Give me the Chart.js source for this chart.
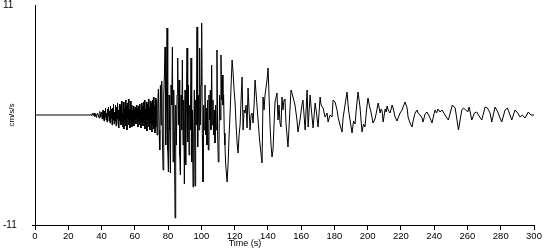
<!DOCTYPE html>
<html>
<head>
<meta charset="utf-8">
<script src="https://cdn.jsdelivr.net/npm/chart.js@4"></script>
<style>
    body { margin: 0; background: #fff; }
    canvas { display: block; }
</style>
</head>
<body>
<canvas id="accelChart" width="550" height="250"></canvas>
<script>
// Values, split by phase. Time in s, acceleration in cm/s/s.
const quietTimes = [0, 33];
const quietAccel = [0, 0];

const onsetTimes = [33.5, 34, 34.5, 35, 35.5, 36, 36.5, 37, 37.5, 38, 38.5, 39, 39.5];
const onsetAccel = [0.05, -0.1, 0.15, -0.05, 0.2, -0.15, 0.1, -0.25, 0.2, 0.05, -0.3, 0.35, -0.2];

const preTimes = [
    40, 40.3, 40.6, 40.9, 41.2, 41.5, 41.8, 42.1, 42.4, 42.7, 43, 43.3, 43.6, 43.9, 44.2, 44.5, 44.8,
    45.1, 45.4, 45.7, 46, 46.3, 46.6, 46.9, 47.2, 47.5, 47.8, 48.1, 48.4, 48.7, 49, 49.3, 49.6, 49.9,
    50.2, 50.5, 50.8, 51.1, 51.4, 51.7, 52, 52.3, 52.6, 52.9, 53.2, 53.5, 53.8, 54.1, 54.4, 54.7, 55,
    55.3, 55.6, 55.9, 56.2, 56.5, 56.8, 57.1, 57.4, 57.7, 58, 58.3, 58.6, 58.9, 59.2, 59.5, 59.8, 60.1,
    60.4, 60.7, 61, 61.3, 61.6, 61.9, 62.2, 62.5, 62.8, 63.1, 63.4, 63.7, 64, 64.3, 64.6, 64.9, 65.2,
    65.5, 65.8, 66.1, 66.4, 66.7, 67, 67.3, 67.6, 67.9, 68.2, 68.5, 68.8, 69.1, 69.4, 69.7, 70, 70.3,
    70.6, 70.9, 71.2, 71.5, 71.8, 72.1, 72.4, 72.7
];
const preAccel = [
    0.3, -0.4, 0.1, 0.5, -0.3, -0.6, 0.4, -0.2, 0.7, -0.5, 0.2, -0.7, 0.6, -0.1, 0.8, -0.6, 0.4,
    -0.8, 0.9, -0.3, 0.6, -1.0, 0.7, -0.5, 1.1, -0.9, 0.3, -0.6, 1.0, -1.1, 0.8, -0.4, 1.2, -0.8,
    0.5, -1.3, 1.1, -0.6, 0.9, -1.0, 1.4, -0.7, 0.2, -1.2, 1.3, -1.4, 0.7, -0.5, 1.5, -1.1, 0.9,
    -1.5, 1.2, -0.4, 1.6, -1.0, 0.6, -1.3, 1.4, -0.8, 1.0, -1.2, 0.5, -0.7, 0.9, -1.1, 0.6, -0.5,
    0.8, -0.9, 1.0, -0.4, 0.7, -1.2, 0.9, -0.6, 1.1, -1.0, 0.5, -1.3, 1.2, -0.7, 0.9, -1.1, 1.3,
    -0.8, 1.5, -1.4, 0.6, -1.0, 1.3, -1.6, 1.1, -0.5, 1.6, -1.2, 0.8, -1.5, 1.4, -0.9, 1.2, -1.7,
    1.5, -1.0, 1.8, -1.4, 0.9, -1.8, 1.7, -1.2
];

const strongTimes = [
    73, 73.4, 73.8, 74.2, 74.6, 75, 75.4, 75.8, 76.2, 76.6,
    77, 77.4, 77.8, 78.2, 78.6, 79, 79.4, 79.8, 80.2, 80.6,
    81, 81.4, 81.8, 82.2, 82.6, 83, 83.4, 83.8, 84.2, 84.6,
    85, 85.4, 85.8, 86.2, 86.6, 87, 87.4, 87.8, 88.2, 88.6,
    89, 89.4, 89.8, 90.2, 90.6, 91, 91.4, 91.8, 92.2, 92.6,
    93, 93.4, 93.8, 94.2, 94.6, 95, 95.4, 95.8, 96.2, 96.6,
    97, 97.4, 97.8, 98.2, 98.6, 99, 99.4, 99.8, 100.2, 100.6,
    101, 101.4, 101.8, 102.2, 102.6, 103, 103.4, 103.8, 104.2, 104.6,
    105, 105.4, 105.8, 106.2, 106.6, 107, 107.4, 107.8, 108.2, 108.6,
    109, 109.4, 109.8, 110.2, 110.6, 111, 111.4, 111.8, 112.2, 112.6,
    113, 113.4, 113.8, 114.2, 114.6
];
const strongAccel = [
    1.5, -2.0, 1.2, 2.6, -1.5, -3.5, 3.0, -1.0, 3.4, -2.5,
    -5.5, 2.0, 4.0, 6.8, -3.0, 1.0, 8.7, -3.5, -5.7, 2.0,
    -1.5, -5.8, 3.0, 1.0, 6.8, -4.7, 2.5, -2.0, -10.3, 1.0,
    -3.0, 2.0, 5.7, -1.0, 3.5, -4.0, -6.0, 2.0, -1.5, 5.5,
    -3.0, 1.5, -6.9, 2.5, -5.0, 1.0, 6.7, -2.7, 3.0, -4.0,
    1.0, -1.5, 5.7, -4.7, 0.5, -7.2, -2.0, 2.5, -7.1, 1.5,
    -1.0, 8.8, -3.2, 2.0, -1.5, 6.7, -1.0, 3.0, 9.2, -2.0,
    -6.7, 1.0, -1.5, 3.0, -2.0, 0.7, -3.0, 1.5, -3.5, 2.0,
    -0.5, 2.5, -1.5, 5.0, -1.0, 1.5, -2.0, 0.5, -2.8, 1.0,
    -1.5, 6.5, -2.0, -4.7, -3.0, 2.0, -0.5, 6.0, 1.5, 4.0,
    1.0, 2.0, -1.8, -3.0, -4.8
];

const codaTimes = [
    115.5, 116.1, 116.7, 117.3, 117.9, 118.5, 119.1, 119.7, 120.3, 120.9,
    121.5, 122.1, 122.7, 123.3, 123.9, 124.5, 125.1, 125.7, 126.3, 126.9,
    127.5, 128.1, 128.7, 129.3, 129.9, 130.5, 131.1, 131.7, 132.3, 133,
    134.1, 135, 136.5, 137.1, 137.7, 138.3, 139.5, 140.1, 140.7, 141.3,
    141.9, 142.5, 143.1, 143.7, 144.3,
    145.5, 146.1, 146.7, 147.3, 147.9, 148.5, 149.1, 149.7, 150.3, 150.9,
    152.1, 153.9, 154.5, 155.1, 156.3, 157.5, 158.1, 159.3, 160.5, 161.1,
    162.4, 163.6, 164.2, 165.4, 166, 167.2, 168.4, 169, 170.2, 171.4,
    172, 173.2, 174.4, 175.6, 176.2, 177.4, 178.6, 179.2, 180.4, 181.6,
    182.2, 183.4, 184.6, 185.2
];
const codaAccel = [
    -6.7, -4.8, -2.0, 0.2, 3.0, 5.5, 4.2, 2.5, 1.2, -1.0,
    -2.8, -3.8, -2.0, -1.0, 1.5, 3.8, -1.5, 0.5, 0.2, 1.0,
    -1.3, 2.7, 0.5, -1.5, 0.0, 0.2, -0.8, 1.0, 3.5, 2.0,
    -0.5, -2.5, -4.8, 1.8, 0.5, 2.0, 3.5, 4.7, 2.0, -1.0,
    -3.0, -4.2, -3.5, -1.0, 1.3,
    2.2, -0.5, 1.0, -0.8, -1.2, 1.8, 0.5, 1.5, 1.6, -0.8,
    -3.2, 2.5, 2.2, 1.8, 1.0, -0.5, -1.7, -0.5, 1.0, 1.5,
    -1.5, 2.5, -1.2, 2.0, 0.8, -1.3, 1.2, 0.5, -1.2, 1.8,
    1.0, 0.7, -0.2, 0.2, -0.7, 0.0, -0.2, 1.5, 1.3, 0.5,
    -0.2, -1.0, -1.7, -0.3
];

const tailTimes = [
    186.4, 187.6, 188.5, 189.4, 190.6, 191.5, 192.4, 193.3, 194.2, 195.4,
    196.6, 197.5, 198.4, 199.3, 200.2, 201.1, 202, 203.2, 204.4, 205.3,
    206.3, 207.5, 208.1, 208.7, 209.3, 210.5, 211.1, 211.7, 212.3, 213.5,
    214.1, 214.7, 215.3, 216.5, 217.7, 218.3, 219.5, 220.7, 221.3, 222.5,
    223.7, 224.3, 225.5, 226.7, 227.3, 228.5, 229.7, 230.3, 231.5, 232.7,
    233.3, 234.5, 235.7, 236.6, 237.5, 238.7, 239.6, 240.5, 241.4, 242.3,
    243.5, 244.7,
    246.5, 248.5, 250.9, 252.6, 254.6, 256.6, 257.6, 259, 260.2, 261,
    262.6, 264.2, 265.6, 266.6, 268.6, 270.6, 272, 273.6, 274.6, 276.6,
    278.2, 279.6, 280.6, 282.6, 284, 285.6, 286.6, 288.6, 290.2, 291.6,
    293, 294.6, 296.6, 298.2, 300
];
const tailAccel = [
    1.0, 2.3, 0.5, -0.5, -1.8, -0.6, -0.9, 0.8, 2.3, 0.8,
    -1.7, -0.9, -1.2, 0.5, 1.7, 0.9, 0.3, -0.8, -0.4, 0.3,
    1.2, 0.2, 0.6, 0.4, -0.7, 0.6, 0.3, 0.9, 0.5, 0.2,
    0.6, 1.0, 0.7, -0.2, -0.6, -0.3, 0.2, 0.5, 0.8, 1.3,
    0.7, -0.2, -0.8, -1.2, -0.6, 0.2, 0.5, 0.2, 0.0, -0.3,
    -0.7, 0.1, 0.3, 0.0, -0.3, -0.8, -0.1, 0.5, 0.2, 0.6,
    0.3, 0.5,
    0.0, -0.5, 1.0, 0.7, -1.5, 0.5, 0.7, 0.5, 0.3, 0.8,
    -0.5, 0.2, 0.3, 0.0, -0.5, 0.8, 0.7, 0.2, -0.7, 0.8,
    0.3, -0.3, -0.7, 0.5, 0.7, 0.0, -0.5, 0.5, 0.2, -0.2,
    0.0, -0.3, 0.3, 0.0, 0.0
];

// Axis ticks and titles
const yTickValues = [-11, 11];
const xTickStep = 20;
const xTitle = 'Time (s)';
const yTitle = 'cm/s/s';

const timeSec = [].concat(quietTimes, onsetTimes, preTimes, strongTimes, codaTimes, tailTimes);
const accel = [].concat(quietAccel, onsetAccel, preAccel, strongAccel, codaAccel, tailAccel);
const points = timeSec.map((t, i) => ({ x: t, y: accel[i] }));

const fontFamily = '"Liberation Sans", Arial, sans-serif';

// axis titles sit off-centre in the original, so draw them here
const axisTitles = {
    id: 'axisTitles',
    afterDraw(chart) {
        const c = chart.ctx;
        c.save();
        c.fillStyle = '#000';
        c.font = '9px ' + fontFamily;
        c.textAlign = 'center';
        c.textBaseline = 'middle';
        c.fillText(xTitle, 245, 244);
        c.translate(12, 115);
        c.rotate(-Math.PI / 2);
        c.font = '8px ' + fontFamily;
        c.fillText(yTitle, 0, 0);
        c.restore();
    }
};

const ctx = document.getElementById('accelChart').getContext('2d');
const accelChart = new Chart(ctx, {
    type: 'line',
    data: {
        datasets: [{
            label: 'Acceleration',
            data: points,
            borderColor: '#000',
            borderWidth: 1,
            pointRadius: 0,
            tension: 0,
            fill: false
        }]
    },
    options: {
        responsive: false,
        animation: false,
        layout: {
            padding: { top: 5, right: 16, bottom: 0, left: 3 }
        },
        scales: {
            x: {
                type: 'linear',
                min: 0,
                max: 300,
                border: { color: '#000', width: 1 },
                grid: {
                    drawOnChartArea: false,
                    drawTicks: true,
                    tickLength: 5,
                    color: '#000'
                },
                ticks: {
                    stepSize: xTickStep,
                    maxRotation: 0,
                    autoSkip: false,
                    padding: 1,
                    color: '#000',
                    font: { family: fontFamily, size: 9.5 }
                },
                afterFit(scale) {
                    scale.height = 25;
                    scale.paddingLeft = 0;
                    scale.paddingRight = 0;
                }
            },
            y: {
                type: 'linear',
                min: -11,
                max: 11,
                border: { color: '#000', width: 1 },
                grid: {
                    drawOnChartArea: false,
                    drawTicks: true,
                    tickLength: 3,
                    color: (c) => c.tick && c.tick.value === -11 ? '#000' : 'rgba(0,0,0,0)'
                },
                ticks: {
                    crossAlign: 'far',
                    color: '#000',
                    font: { family: fontFamily, size: 10 }
                },
                afterBuildTicks(scale) {
                    scale.ticks = yTickValues.map(v => ({ value: v }));
                },
                afterFit(scale) {
                    scale.width = 32;
                    scale.paddingTop = 0;
                    scale.paddingBottom = 0;
                }
            }
        },
        plugins: {
            legend: { display: false },
            tooltip: { enabled: false }
        }
    },
    plugins: [axisTitles]
});
</script>
</body>
</html>
